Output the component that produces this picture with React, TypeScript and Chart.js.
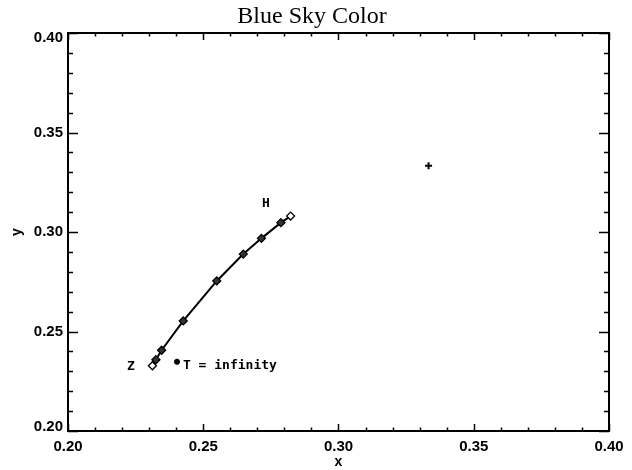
import { useEffect, useRef } from "react";
import { Chart, registerables } from "chart.js";

Chart.register(...registerables);

// Data
const curveX = [0.2312, 0.2325, 0.2346, 0.2426, 0.255, 0.2648, 0.2715, 0.2787, 0.2823];
const curveY = [0.2328, 0.2358, 0.2406, 0.2553, 0.2754, 0.2889, 0.2968, 0.3047, 0.308];
const curveFill = ["#ffffff", "#333333", "#333333", "#333333", "#333333", "#333333", "#333333", "#333333", "#ffffff"];
const infinityX = [0.2403];
const infinityY = [0.2348];
const whiteX = [0.3333];
const whiteY = [0.3333];

const xMajorTicks = [0.2, 0.25, 0.3, 0.35, 0.4];
const xMinorTicks = [0.21, 0.22, 0.23, 0.24, 0.26, 0.27, 0.28, 0.29, 0.31, 0.32, 0.33, 0.34, 0.36, 0.37, 0.38, 0.39];
const yMajorTicks = [0.2, 0.25, 0.3, 0.35, 0.4];
const yMinorTicks = [0.21, 0.22, 0.23, 0.24, 0.26, 0.27, 0.28, 0.29, 0.31, 0.32, 0.33, 0.34, 0.36, 0.37, 0.38, 0.39];
const tickLabels = ["0.20", "0.25", "0.30", "0.35", "0.40"];

const noteTexts = ["H", "Z", "T = infinity"];
const noteX = [0.2732, 0.2233, 0.2425];
const noteY = [0.3141, 0.2322, 0.2327];

const titleText = "Blue Sky Color";
const xTitle = "x";
const yTitle = "y";

const decorPlugin = {
  id: "decor",
  afterDraw(chart: any) {
    const ctx = chart.ctx as CanvasRenderingContext2D;
    const xs = chart.scales.x;
    const ys = chart.scales.y;
    const { left, right, top, bottom } = chart.chartArea;
    ctx.save();
    ctx.strokeStyle = "#000";
    ctx.fillStyle = "#000";
    // frame
    ctx.lineWidth = 2;
    ctx.strokeRect(left, top, right - left, bottom - top);
    // ticks
    ctx.lineWidth = 1.5;
    ctx.beginPath();
    const xt = (v: number, len: number) => {
      const p = Math.round(xs.getPixelForValue(v)) + 0.5;
      ctx.moveTo(p, bottom);
      ctx.lineTo(p, bottom - len);
      ctx.moveTo(p, top);
      ctx.lineTo(p, top + len);
    };
    const yt = (v: number, len: number) => {
      const p = Math.round(ys.getPixelForValue(v)) + 0.5;
      ctx.moveTo(left, p);
      ctx.lineTo(left + len, p);
      ctx.moveTo(right, p);
      ctx.lineTo(right - len, p);
    };
    xMajorTicks.forEach((v) => xt(v, 7));
    xMinorTicks.forEach((v) => xt(v, 3.5));
    yMajorTicks.forEach((v) => yt(v, 10));
    yMinorTicks.forEach((v) => yt(v, 5));
    ctx.stroke();

    // tick labels
    ctx.font = "bold 15px 'Liberation Sans', Arial, sans-serif";
    ctx.textAlign = "center";
    ctx.textBaseline = "middle";
    xMajorTicks.forEach((v, i) => {
      ctx.fillText(tickLabels[i], xs.getPixelForValue(v), bottom + 16);
    });
    ctx.textAlign = "right";
    yMajorTicks.forEach((v, i) => {
      let p = ys.getPixelForValue(v);
      if (i === 0) p -= 4;
      if (i === yMajorTicks.length - 1) p += 5;
      ctx.fillText(tickLabels[i], left - 5, p);
    });

    // axis titles
    ctx.font = "bold 14px 'Liberation Sans', Arial, sans-serif";
    ctx.textAlign = "center";
    ctx.fillText(xTitle, (left + right) / 2, bottom + 31);
    ctx.save();
    ctx.translate(17, (top + bottom) / 2);
    ctx.rotate(-Math.PI / 2);
    ctx.fillText(yTitle, 0, 0);
    ctx.restore();

    // title
    ctx.font = "24px 'Liberation Serif', 'Times New Roman', serif";
    ctx.textAlign = "center";
    ctx.textBaseline = "alphabetic";
    ctx.fillText(titleText, 312, 23);

    // annotations
    ctx.font = "bold 13px 'DejaVu Sans Mono', monospace";
    ctx.textBaseline = "middle";
    noteTexts.forEach((t, i) => {
      const px = xs.getPixelForValue(noteX[i]);
      const py = ys.getPixelForValue(noteY[i]);
      ctx.textAlign = i === 2 ? "left" : "center";
      ctx.fillText(t, px, py);
    });
    ctx.restore();
  },
};

export default function App() {
  const ref = useRef<HTMLCanvasElement | null>(null);
  useEffect(() => {
    if (!ref.current) return;
    const chart = new Chart(ref.current, {
      type: "scatter",
      data: {
        datasets: [
          {
            data: curveX.map((x, i) => ({ x, y: curveY[i] })),
            showLine: true,
            borderColor: "#000",
            borderWidth: 2,
            pointStyle: "rectRot",
            pointRadius: 4,
            pointBorderWidth: 1.3,
            pointBorderColor: "#000",
            pointBackgroundColor: curveFill,
          },
          {
            data: infinityX.map((x, i) => ({ x, y: infinityY[i] })),
            pointStyle: "star",
            pointRadius: 3,
            pointBorderWidth: 2,
            pointBorderColor: "#000",
            pointBackgroundColor: "#000",
          },
          {
            data: whiteX.map((x, i) => ({ x, y: whiteY[i] })),
            pointStyle: "cross",
            pointRadius: 3.5,
            pointBorderWidth: 2,
            pointBorderColor: "#000",
          },
        ],
      },
      options: {
        responsive: false,
        animation: false,
        devicePixelRatio: 1,
        layout: { padding: { top: 33, right: 23, left: 0, bottom: 0 } },
        plugins: { legend: { display: false }, tooltip: { enabled: false }, title: { display: false } },
        scales: {
          x: {
            type: "linear",
            min: 0.2,
            max: 0.4,
            grid: { display: false, drawTicks: false },
            border: { display: false },
            ticks: { display: false },
            afterFit: (s: any) => {
              s.height = 39;
            },
          },
          y: {
            type: "linear",
            min: 0.2,
            max: 0.4,
            grid: { display: false, drawTicks: false },
            border: { display: false },
            ticks: { display: false },
            afterFit: (s: any) => {
              s.width = 68;
            },
          },
        },
      } as any,
      plugins: [decorPlugin],
    });
    return () => chart.destroy();
  }, []);
  return (
    <canvas
      ref={ref}
      width={632}
      height={470}
      style={{ position: "absolute", left: 0, top: 0, width: 632, height: 470, background: "#fff" }}
    />
  );
}
